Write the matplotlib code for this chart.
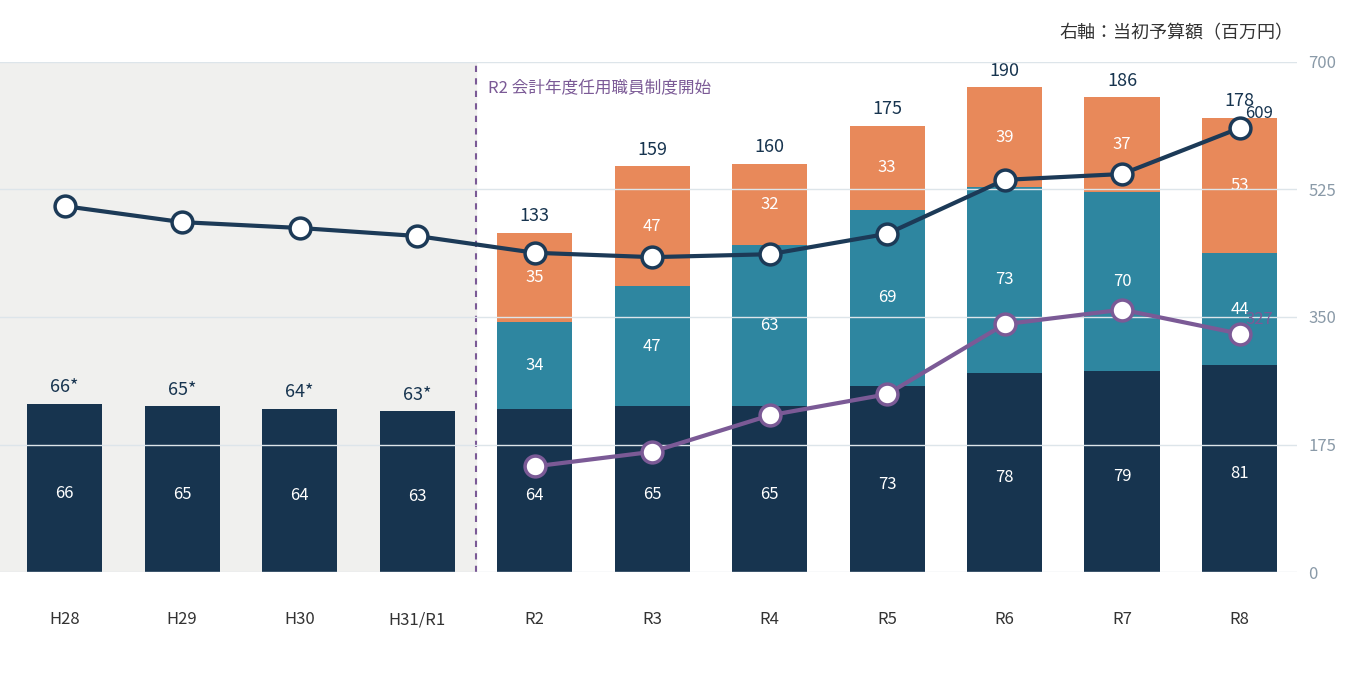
import matplotlib
matplotlib.use("Agg")
import matplotlib.pyplot as plt
import numpy as np

plt.rcParams['font.family'] = ['Noto Sans CJK JP', 'DejaVu Sans']

years = ["H28", "H29", "H30", "H31/R1", "R2", "R3", "R4", "R5", "R6", "R7", "R8"]
base = [66, 65, 64, 63, 64, 65, 65, 73, 78, 79, 81]
mid = [0, 0, 0, 0, 34, 47, 63, 69, 73, 70, 44]
top = [0, 0, 0, 0, 35, 47, 32, 33, 39, 37, 53]
totals = ["66*", "65*", "64*", "63*", "133", "159", "160", "175", "190", "186", "178"]
budget = [502, 480, 472, 461, 438, 432, 436, 464, 538, 546, 609]
sub_budget = [None, None, None, None, 145, 165, 215, 244, 340, 360, 327]

NAVY = "#17344f"
TEAL = "#2e86a0"
ORANGE = "#e8895a"
PURPLE = "#7b5a96"
LINE = "#1c3a57"

fig = plt.figure(figsize=(13.64, 6.86), dpi=100)
ax = fig.add_axes([0, 0.166, 0.951, 0.744])
x = np.arange(len(years))
ax.set_xlim(-0.55, 10.49)
ax.set_ylim(0, 200)
ax.axvspan(-0.55, 3.5, color="#f0f0ee", zorder=0)
ax.axvline(3.5, color=PURPLE, ls=(0, (3, 3)), lw=1.5, zorder=1)
ax.text(3.6, 190, "R2 会計年度任用職員制度開始", color=PURPLE, fontsize=12, va="center")

w = 0.64
b = np.array(base)
m = np.array(mid)
t = np.array(top)
ax.bar(x, b, w, color=NAVY, zorder=2)
ax.bar(x, m, w, bottom=b, color=TEAL, zorder=2)
ax.bar(x, t, w, bottom=b + m, color=ORANGE, zorder=2)
for i in range(len(x)):
    ax.text(x[i], b[i] / 2 - 2, str(base[i]), color="white", ha="center", va="center", fontsize=12, zorder=5)
    if m[i]:
        ax.text(x[i], b[i] + m[i] / 2, str(mid[i]), color="white", ha="center", va="center", fontsize=12, zorder=5)
    if t[i]:
        ax.text(x[i], b[i] + m[i] + t[i] / 2, str(top[i]), color="white", ha="center", va="center", fontsize=12, zorder=5)
    ax.text(x[i], b[i] + m[i] + t[i] + 3, totals[i], color=NAVY, ha="center", va="bottom", fontsize=13, zorder=5)

ax.set_xticks(x)
ax.set_xticklabels(years, fontsize=12, color="#333333")
ax.tick_params(axis="x", length=0, pad=28)
ax.set_yticks([])
for s in ax.spines.values():
    s.set_visible(False)

ax2 = ax.twinx()
ax2.set_ylim(0, 700)
ax2.set_yticks([0, 175, 350, 525, 700])
ax2.tick_params(axis="y", length=0, labelsize=12, labelcolor="#8a9aa8", pad=8)
for v in [175, 350, 525, 700]:
    ax2.axhline(v, color="#dde5ea", lw=1, zorder=0)
ax2.axhline(0, color="#dde5ea", lw=1, zorder=0)
for s in ax2.spines.values():
    s.set_visible(False)
ax.set_zorder(ax2.get_zorder() - 1) if False else None

ax2.plot(x, budget, color=LINE, lw=3, marker="o", ms=15, mfc="white", mec=LINE, mew=2.5, zorder=6)
sx = [i for i, v in enumerate(sub_budget) if v is not None]
sy = [v for v in sub_budget if v is not None]
ax2.plot(sx, sy, color=PURPLE, lw=3, marker="o", ms=15, mfc="white", mec=PURPLE, mew=2.5, zorder=6)
ax2.text(x[-1] + 0.05, budget[-1] + 8, str(budget[-1]), color=NAVY, fontsize=12, va="bottom", ha="left", zorder=7)
ax2.text(x[-1] + 0.05, sub_budget[-1] + 8, str(sub_budget[-1]), color=PURPLE, fontsize=12, va="bottom", ha="left", zorder=7)

fig.text(0.948, 0.952, "右軸：当初予算額（百万円）", ha="right", va="center", fontsize=13, color="#333333")
fig.savefig("out.png", dpi=100, facecolor="white")
